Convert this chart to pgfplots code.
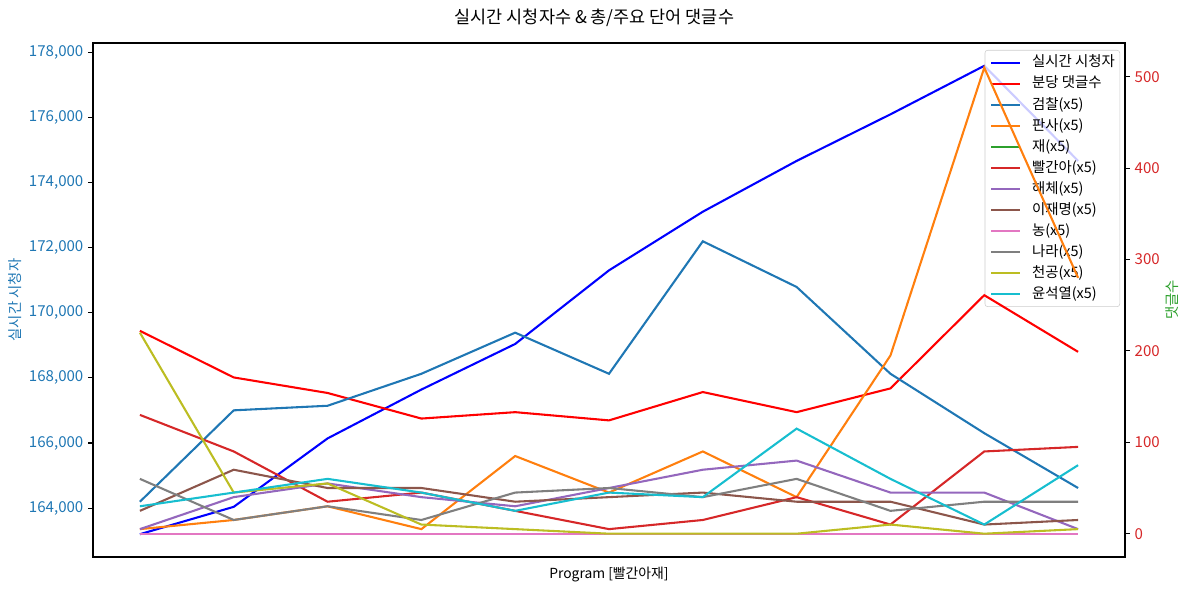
\documentclass[border=0pt]{standalone}
\usepackage{fontspec}
\setmainfont{Noto Sans CJK KR}
\usepackage{pgfplots}
\usepackage{pgfplotstable}
\pgfplotsset{compat=1.18}
\definecolor{tabblue}{HTML}{1F77B4}
\definecolor{taborange}{HTML}{FF7F0E}
\definecolor{tabgreen}{HTML}{2CA02C}
\definecolor{tabred}{HTML}{D62728}
\definecolor{tabpurple}{HTML}{9467BD}
\definecolor{tabbrown}{HTML}{8C564B}
\definecolor{tabpink}{HTML}{E377C2}
\definecolor{tabgray}{HTML}{7F7F7F}
\definecolor{tabolive}{HTML}{BCBD22}
\definecolor{tabcyan}{HTML}{17BECF}

\pgfplotstableread{
x viewers cmt gc pansa jae ppal hae lee nong nara chun yoon
0 163200 222 35 5 0 130 5 25 0 60 220 30
1 164040 171 135 15 0 90 40 70 0 15 45 45
2 166140 154 140 30 0 35 55 50 0 30 55 60
3 167640 126 175 5 0 45 40 50 0 15 10 45
4 169040 133 220 85 0 25 30 35 0 45 5 25
5 171300 124 175 45 0 5 50 40 0 50 0 45
6 173100 155 320 90 0 15 70 45 0 40 0 40
7 174660 133 270 40 0 40 80 35 0 60 0 115
8 176090 159 175 195 0 10 45 35 0 25 10 60
9 177580 261 110 510 0 90 45 10 0 35 0 10
10 174660 199 50 280 0 95 5 15 0 35 5 75
}\data

\pgfplotsset{
  common/.style={
    at={(0,0)}, anchor=south west, scale only axis,
    width=774pt, height=385.5pt,
    xmin=-0.5, xmax=10.5, xtick=\empty,
    axis line style={line width=0.83pt},
    tick align=outside,
    major tick length=3.7pt,
    major tick style={line width=0.83pt, black},
    ticklabel style={font=\fontsize{11.3}{13}\selectfont},
    every axis plot/.append style={line width=1.56pt, no markers, sharp plot},
    /pgf/number format/assume math mode=true,
  },
}

\begin{document}
\begin{tikzpicture}
\path[use as bounding box] (-69.75pt,-26.25pt) rectangle (822pt,417.75pt);
\begin{axis}[common,
  ymin=162500, ymax=178280,
  ytick={164000,166000,...,178000},
  ytick pos=left,
  scaled y ticks=false,
  yticklabel style={text=tabblue, /pgf/number format/1000 sep={,}, /pgf/number format/fixed},
  ylabel={실시간 시청자},
  ylabel style={at={(axis description cs:-0.0756,0.5)}, anchor=center, text=tabblue, font=\fontsize{10.8}{12}\selectfont},
  xlabel={Program [빨간아재]},
  xlabel style={at={(axis description cs:0.5,0)}, anchor=center, yshift=-13.5pt, font=\fontsize{10.4}{12}\selectfont},
  legend style={at={(0.9952,0.9864)}, anchor=north east, draw=black!20, rounded corners=2pt,
    fill=white, fill opacity=0.8, text opacity=1, font=\fontsize{10.8}{12}\selectfont,
    nodes={inner sep=0pt, text height=8.5pt, text depth=2pt}, row sep=5.3pt,
    inner xsep=3.75pt, inner ysep=4pt},
  legend cell align=left,
  legend image code/.code={\draw[#1] (0pt,0pt) -- (22pt,0pt);},
  legend style={/tikz/every odd column/.append style={column sep=8pt}},
]
\addplot[blue] table[x=x, y=viewers] {\data};
\addlegendentry{실시간 시청자}
\addlegendimage{red, line width=1.56pt}\addlegendentry{분당 댓글수}
\addlegendimage{tabblue, line width=1.56pt}\addlegendentry{검찰(x5)}
\addlegendimage{taborange, line width=1.56pt}\addlegendentry{판사(x5)}
\addlegendimage{tabgreen, line width=1.56pt}\addlegendentry{재(x5)}
\addlegendimage{tabred, line width=1.56pt}\addlegendentry{빨간아(x5)}
\addlegendimage{tabpurple, line width=1.56pt}\addlegendentry{해체(x5)}
\addlegendimage{tabbrown, line width=1.56pt}\addlegendentry{이재명(x5)}
\addlegendimage{tabpink, line width=1.56pt}\addlegendentry{농(x5)}
\addlegendimage{tabgray, line width=1.56pt}\addlegendentry{나라(x5)}
\addlegendimage{tabolive, line width=1.56pt}\addlegendentry{천공(x5)}
\addlegendimage{tabcyan, line width=1.56pt}\addlegendentry{윤석열(x5)}
\end{axis}
\begin{axis}[common,
  ymin=-25.5, ymax=537,
  ytick={0,100,...,500},
  ytick pos=right,
  yticklabel pos=right,
  yticklabel style={text=tabred},
  ylabel={댓글수},
  ylabel style={at={(axis description cs:1.0455,0.5)}, anchor=center, text=tabgreen, font=\fontsize{10.8}{12}\selectfont},
]
\addplot[red] table[x=x, y=cmt] {\data};
\addplot[tabblue] table[x=x, y=gc] {\data};
\addplot[taborange] table[x=x, y=pansa] {\data};
\addplot[tabgreen] table[x=x, y=jae] {\data};
\addplot[tabred] table[x=x, y=ppal] {\data};
\addplot[tabpurple] table[x=x, y=hae] {\data};
\addplot[tabbrown] table[x=x, y=lee] {\data};
\addplot[tabpink] table[x=x, y=nong] {\data};
\addplot[tabgray] table[x=x, y=nara] {\data};
\addplot[tabolive] table[x=x, y=chun] {\data};
\addplot[tabcyan] table[x=x, y=yoon] {\data};
\end{axis}
\node[font=\fontsize{13.1}{15}\selectfont] at (376.1pt,404.25pt) {실시간 시청자수 \& 총/주요 단어 댓글수};
\end{tikzpicture}
\end{document}
